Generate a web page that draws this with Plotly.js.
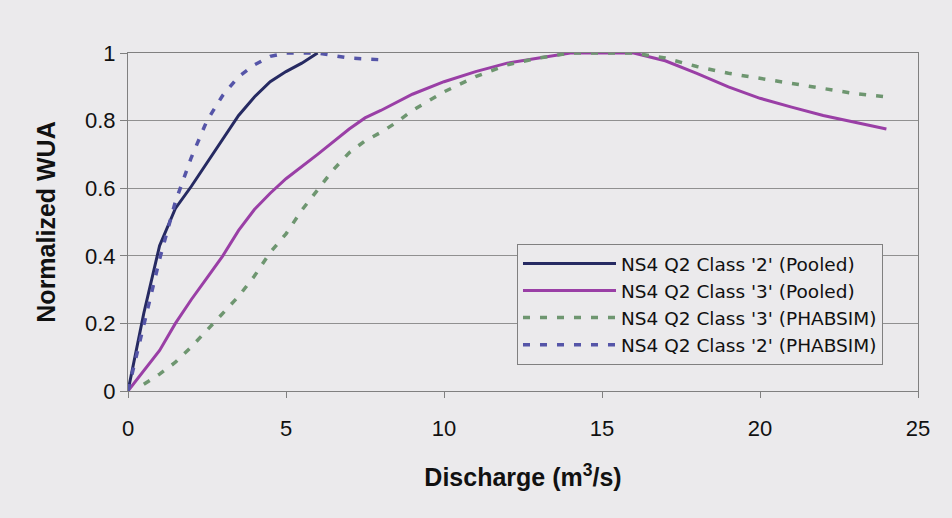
<!DOCTYPE html>
<html>
<head>
<meta charset="utf-8">
<script src="https://cdn.plot.ly/plotly-3.0.1.min.js"></script>
<style>
  html, body { margin: 0; padding: 0; background: #ebeaec; }
  #chart { width: 952px; height: 518px; }
</style>
</head>
<body>
<div id="chart"></div>
<script>
// Series names
const seriesNames = [
  "NS4 Q2 Class '2' (Pooled)",
  "NS4 Q2 Class '3' (Pooled)",
  "NS4 Q2 Class '3' (PHABSIM)",
  "NS4 Q2 Class '2' (PHABSIM)"
];

// NS4 Q2 Class '2' (Pooled)
const c2PooledX = [0, 0.5, 1, 1.5, 2, 2.5, 3, 3.5, 4, 4.5, 5, 5.5, 6];
const c2PooledY = [0, 0.23, 0.43, 0.54, 0.605, 0.675, 0.745, 0.815, 0.87, 0.915, 0.945, 0.97, 1.0];

// NS4 Q2 Class '3' (Pooled)
const c3PooledX = [0, 0.5, 1, 1.5, 2, 2.5, 3, 3.5, 4, 4.5, 5, 6, 7, 7.5, 8, 9, 10, 11, 12, 13, 14, 15, 16, 17, 18, 19, 20, 21, 22, 23, 24];
const c3PooledY = [0, 0.06, 0.12, 0.20, 0.27, 0.335, 0.40, 0.475, 0.537, 0.585, 0.628, 0.70, 0.775, 0.808, 0.83, 0.878, 0.915, 0.945, 0.97, 0.985, 1.0, 1.0, 1.0, 0.977, 0.94, 0.90, 0.866, 0.84, 0.815, 0.795, 0.775];

// NS4 Q2 Class '3' (PHABSIM)
const c3PhabX = [0.5, 1, 1.5, 2, 2.5, 3, 3.5, 4, 4.5, 5, 5.5, 6, 6.5, 7, 7.5, 8, 8.5, 9, 10, 11, 12, 13, 14, 15, 16, 17, 18, 19, 20, 21, 22, 23, 24];
const c3PhabY = [0.02, 0.05, 0.085, 0.13, 0.18, 0.23, 0.28, 0.34, 0.41, 0.465, 0.535, 0.595, 0.655, 0.705, 0.74, 0.765, 0.795, 0.83, 0.885, 0.93, 0.965, 0.985, 1.0, 1.0, 1.0, 0.985, 0.96, 0.94, 0.925, 0.91, 0.895, 0.88, 0.87];

// NS4 Q2 Class '2' (PHABSIM)
const c2PhabX = [0, 0.5, 1, 1.5, 2, 2.5, 3, 3.5, 4, 4.5, 5, 6, 7, 8];
const c2PhabY = [0, 0.2, 0.39, 0.56, 0.69, 0.80, 0.875, 0.93, 0.965, 0.99, 1.0, 1.0, 0.985, 0.98];

// Axis ticks
const xTicks = [0, 5, 10, 15, 20, 25];
const yTicks = [0, 0.2, 0.4, 0.6, 0.8, 1];
const yTickText = ["0", "0.2", "0.4", "0.6", "0.8", "1"];

const bg = '#ebeaec';
const font = 'Arial, "Liberation Sans", sans-serif';

const traces = [
  { x: c2PooledX, y: c2PooledY, name: seriesNames[0], mode: 'lines',
    line: { color: '#262a62', width: 3 } },
  { x: c3PooledX, y: c3PooledY, name: seriesNames[1], mode: 'lines',
    line: { color: '#9a3fa6', width: 3 } },
  { x: c3PhabX, y: c3PhabY, name: seriesNames[2], mode: 'lines',
    line: { color: '#6e9670', width: 3.5, dash: '7px,10px' } },
  { x: c2PhabX, y: c2PhabY, name: seriesNames[3], mode: 'lines',
    line: { color: '#5555a8', width: 3.5, dash: '7px,10px' } }
];

const layout = {
  width: 952, height: 518,
  paper_bgcolor: bg, plot_bgcolor: bg,
  margin: { l: 128, r: 34, t: 53, b: 127 },
  font: { family: font, color: '#111', size: 22 },
  showlegend: true,
  legend: {
    x: 0.4924, y: 0.435, xanchor: 'left', yanchor: 'top',
    bgcolor: bg, bordercolor: '#808080', borderwidth: 1,
    font: { family: '"DejaVu Sans", sans-serif', size: 18.5, color: '#111' },
    itemwidth: 93, tracegroupgap: 0
  },
  xaxis: {
    range: [0, 25], tickvals: xTicks, ticktext: xTicks.map(String),
    showgrid: false, zeroline: false,
    showline: true, linecolor: '#808080', linewidth: 1, mirror: true,
    ticks: 'outside', ticklen: 6, tickcolor: '#808080',
    ticklabelstandoff: 12,
    tickfont: { size: 22, family: font, color: '#111' },
    title: { text: 'Discharge (m<sup>3</sup>/s)', font: { size: 25, family: font, color: '#111', weight: 'bold' }, standoff: 28 }
  },
  yaxis: {
    range: [0, 1], tickvals: yTicks, ticktext: yTickText,
    showgrid: true, gridcolor: '#909090', gridwidth: 1, zeroline: false,
    showline: true, linecolor: '#808080', linewidth: 1, mirror: true,
    ticks: 'outside', ticklen: 7, tickcolor: '#808080',
    tickfont: { size: 22, family: font, color: '#111' },
    title: { text: 'Normalized WUA', font: { size: 25, family: font, color: '#111', weight: 'bold' }, standoff: 22 }
  }
};

Plotly.newPlot('chart', traces, layout, { displayModeBar: false, staticPlot: true });
</script>
</body>
</html>
